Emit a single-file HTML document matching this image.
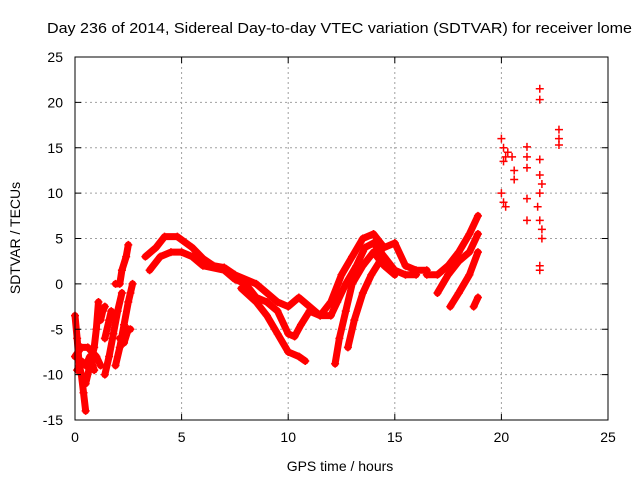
<!DOCTYPE html>
<html><head><meta charset="utf-8"><style>
body{margin:0;background:#fff}
svg{display:block;font-family:"Liberation Sans",sans-serif}
</style></head><body>
<svg id="chart" width="640" height="480" viewBox="0 0 640 480" xmlns="http://www.w3.org/2000/svg">
<rect width="640" height="480" fill="#fff"/>
<text x="47" y="33" font-size="15" textLength="585" lengthAdjust="spacingAndGlyphs">Day 236 of 2014, Sidereal Day-to-day VTEC variation (SDTVAR) for receiver lome</text>
<g id="grid"></g>
<g id="series"></g>
<g id="axes"></g>
<text x="340" y="471" font-size="14" text-anchor="middle">GPS time / hours</text>
<text transform="translate(20,238) rotate(-90)" font-size="14" text-anchor="middle">SDTVAR / TECUs</text>
</svg>
<script>
const xTicks=[0,5,10,15,20,25];
const yTicks=[-15,-10,-5,0,5,10,15,20,25];
const trackUpper=[[3.3,3],[3.8,4],[4.2,5.2],[4.8,5.2],[5.5,4],[6,2.8],[6.5,2],[7,1.8],[7.5,1],[8.5,0],[9,-1],[9.5,-2],[10,-2.5],[10.5,-1.5],[11,-2.5],[11.5,-3.5],[12,-2],[12.5,1],[13,3],[13.5,5],[14,5.5],[14.5,4],[15,4.5],[15.5,2],[16,1.5],[16.5,1.5]];
const trackLower=[[3.5,1.5],[4,3],[4.5,3.5],[5,3.5],[5.5,3],[6,2],[7,1.5],[7.5,0.5],[8,0],[8.5,-1.5],[9,-2],[9.5,-3],[10,-5.5],[10.3,-5.8],[10.6,-4.5],[11,-3],[11.5,-3.5],[12,-3.5],[12.3,-2],[12.7,0],[13.2,2],[13.6,4],[14,4.5],[14.5,3],[15,1.5],[15.5,1],[16,1]];
const trackDip=[[7.8,-0.5],[8.5,-2],[9,-3.5],[9.5,-5.5],[10,-7.5],[10.5,-8],[10.8,-8.5]];
const trackRiseA=[[12.2,-8.8],[12.4,-6],[12.7,-3],[13,0],[13.5,2],[14,3.5],[14.5,2],[15,1]];
const trackRiseB=[[12.8,-7],[13.1,-4],[13.5,-1],[13.9,1],[14.3,2.5]];
const trackLateA=[[16.5,1],[17,1],[17.5,2],[18,3.5],[18.5,5.5],[18.9,7.5]];
const trackLateB=[[17,-1],[17.5,1],[18,2.5],[18.5,3.5],[18.9,5.5]];
const trackLateC=[[17.6,-2.5],[18,-1],[18.5,1],[18.9,3.5]];
const trackLateD=[[18.7,-2.5],[18.9,-1.5]];
const trackE1=[[0,-3.5],[0.1,-6],[0.2,-9],[0.3,-10],[0.4,-12],[0.5,-14]];
const trackE2=[[0.5,-11],[0.7,-9],[0.9,-7],[1,-5],[1.1,-2]];
const trackE3=[[0,-8],[0.3,-7],[0.6,-7],[1,-8],[1.2,-9]];
const trackE4=[[1.4,-10],[1.6,-8],[1.8,-5.5],[2,-3],[2.2,-1]];
const trackE5=[[1.4,-6],[1.6,-4],[1.7,-3]];
const trackE6=[[1.9,-9],[2.1,-7],[2.3,-4.5],[2.5,-2],[2.6,-1],[2.7,0]];
const trackE7=[[1.9,0],[2.1,0],[2.2,1.5],[2.4,3],[2.5,4.3]];
const trackE8=[[0.1,-9.5],[0.3,-8.5],[0.5,-9],[0.7,-8],[0.9,-9.5]];
const trackE9=[[1.2,-4],[1.3,-3],[1.4,-2.5]];
const trackE10=[[2.1,-6],[2.3,-6.5],[2.5,-5],[2.6,-5]];
const scatterPts=[[20.0,16],[20.1,15],[20.2,14],[20.1,13.5],[20.0,10],[20.1,9],[20.2,8.5],[20.6,11.5],[20.6,12.5],[21.2,15.1],[21.2,14],[21.2,12.8],[21.2,9.4],[21.2,7],[21.8,21.5],[21.8,20.3],[21.8,13.7],[21.8,12],[21.9,11],[21.8,10],[21.7,8.5],[21.8,7],[21.9,6],[21.9,5],[21.8,2],[21.8,1.5],[22.7,17],[22.7,16],[22.7,15.3],[20.3,14.5],[20.5,14]];
const tracks=[trackUpper,trackLower,trackDip,trackRiseA,trackRiseB,trackLateA,trackLateB,trackLateC,trackLateD,trackE1,trackE2,trackE3,trackE4,trackE5,trackE6,trackE7,trackE8,trackE9,trackE10];
const L=75,R=608,T=57,B=420,xMin=0,xMax=25,yMin=-15,yMax=25;
const xs=v=>L+(v-xMin)/(xMax-xMin)*(R-L);
const ys=v=>B-(v-yMin)/(yMax-yMin)*(B-T);
const NS="http://www.w3.org/2000/svg";
function mk(t,a,p){const e=document.createElementNS(NS,t);for(const k in a)e.setAttribute(k,a[k]);p.appendChild(e);return e;}
const grid=document.getElementById('grid'),axes=document.getElementById('axes'),ser=document.getElementById('series');
xTicks.forEach(t=>{const x=xs(t);
 if(t>xMin&&t<xMax){const g=mk('line',{x1:x,x2:x,y1:T,y2:B,stroke:'#a0a0a0','stroke-dasharray':'2,3'},grid);}
 mk('line',{x1:x,x2:x,y1:B,y2:B-6,stroke:'#000'},axes);mk('line',{x1:x,x2:x,y1:T,y2:T+6,stroke:'#000'},axes);
 const l=mk('text',{x:x,y:B+22,'font-size':14,'text-anchor':'middle'},axes);l.textContent=t;
 });
yTicks.forEach(t=>{const y=ys(t);
 if(t>yMin&&t<yMax){const g=mk('line',{x1:L,x2:R,y1:y,y2:y,stroke:'#a0a0a0','stroke-dasharray':'2,3'},grid);}
 mk('line',{x1:L,x2:L+6,y1:y,y2:y,stroke:'#000'},axes);mk('line',{x1:R,x2:R-6,y1:y,y2:y,stroke:'#000'},axes);
 const l=mk('text',{x:L-12,y:y+5,'font-size':14,'text-anchor':'end'},axes);l.textContent=t;
 });
mk('rect',{x:L,y:T,width:R-L,height:B-T,fill:'none',stroke:'#000'},axes);
function plus(p,x,y){mk('path',{d:`M${x-4},${y}h8M${x},${y-4}v8`,stroke:'#f00','stroke-width':1.5},p);}
tracks.forEach(tr=>{
 const g=mk('g',{},ser);
 
 
 mk('polyline',{points:tr.map(d=>xs(d[0])+','+ys(d[1])).join(' '),fill:'none',stroke:'#f00','stroke-width':7,'stroke-linejoin':'round','stroke-linecap':'round'},g);
 tr.forEach(d=>plus(g,xs(d[0]),ys(d[1])));
});
const sg=mk('g',{},ser);


scatterPts.forEach(d=>plus(sg,xs(d[0]),ys(d[1])));
</script>
</body></html>
